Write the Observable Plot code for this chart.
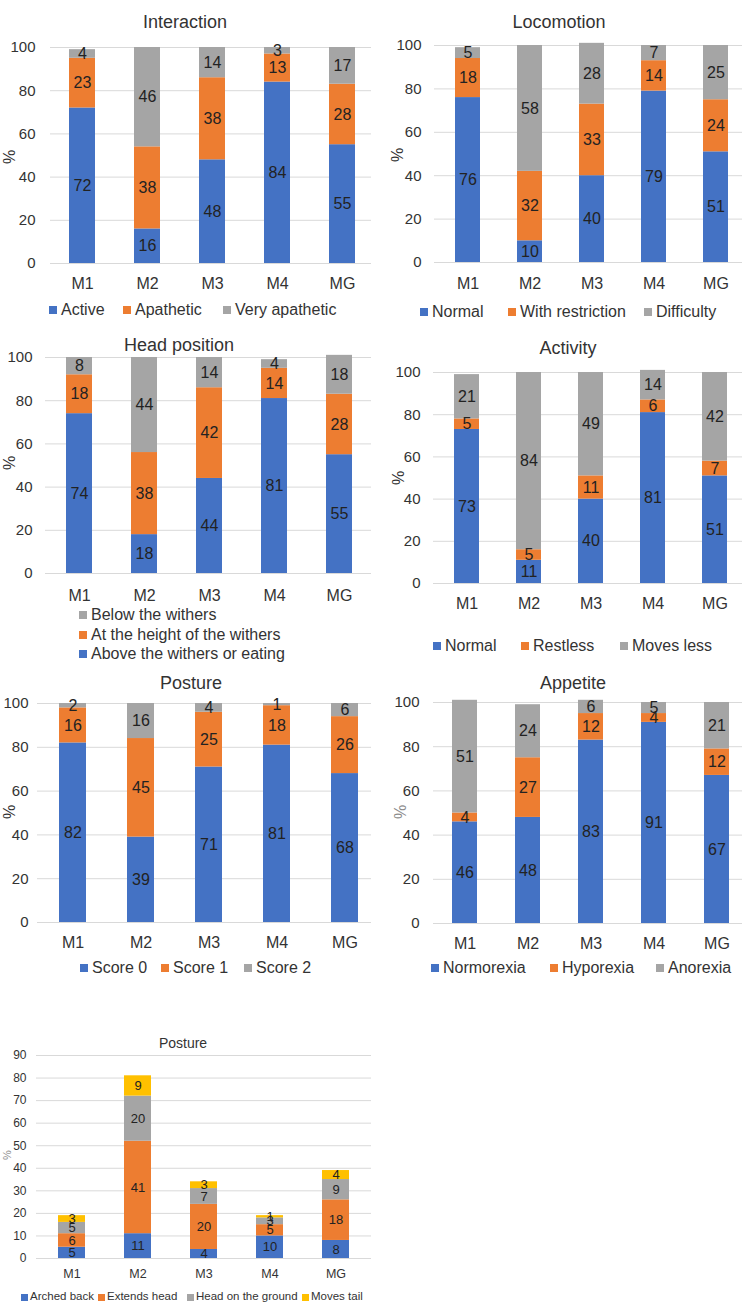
<!DOCTYPE html>
<html><head><meta charset="utf-8">
<script src="https://cdn.jsdelivr.net/npm/d3@7"></script>
<script src="https://cdn.jsdelivr.net/npm/@observablehq/plot@0.6"></script>
<style>
body{margin:0;background:#fff;font-family:"Liberation Sans",Arial,Helvetica,sans-serif;}
#fig{position:relative;width:742px;height:1305px;overflow:hidden;background:#fff;}
.abs{position:absolute;white-space:nowrap;line-height:1;color:#333;}
</style></head><body><div id="fig"></div><script>
// ---- data ----
const groups = ["M1", "M2", "M3", "M4", "MG"];
const colors = ["#4472C4", "#ED7D31", "#A5A5A5", "#FFC000"];
const pctTicks = [0, 20, 40, 60, 80, 100];
const postureTicks = [0, 10, 20, 30, 40, 50, 60, 70, 80, 90];

const interactionSeries = ["Active", "Apathetic", "Very apathetic"];
const interactionValues = [[72, 16, 48, 84, 55], [23, 38, 38, 13, 28], [4, 46, 14, 3, 17]];

const locomotionSeries = ["Normal", "With restriction", "Difficulty"];
const locomotionValues = [[76, 10, 40, 79, 51], [18, 32, 33, 14, 24], [5, 58, 28, 7, 25]];

const headSeries = ["Above the withers or eating", "At the height of the withers", "Below the withers"];
const headValues = [[74, 18, 44, 81, 55], [18, 38, 42, 14, 28], [8, 44, 14, 4, 18]];

const activitySeries = ["Normal", "Restless", "Moves less"];
const activityValues = [[73, 11, 40, 81, 51], [5, 5, 11, 6, 7], [21, 84, 49, 14, 42]];

const postureSeries = ["Score 0", "Score 1", "Score 2"];
const postureValues = [[82, 39, 71, 81, 68], [16, 45, 25, 18, 26], [2, 16, 4, 1, 6]];

const appetiteSeries = ["Normorexia", "Hyporexia", "Anorexia"];
const appetiteValues = [[46, 48, 83, 91, 67], [4, 27, 12, 4, 12], [51, 24, 6, 5, 21]];

const posture2Series = ["Arched back", "Extends head", "Head on the ground", "Moves tail"];
const posture2Values = [[5, 11, 4, 10, 8], [6, 41, 20, 5, 18], [5, 20, 7, 3, 9], [3, 9, 3, 1, 4]];

// ---- layout (pixels) ----
const big = {fx: 16, fy: 15, fv: 16, ft: 18, fl: 16, fp: 16, sw: 8, tx: 12};
const small = {fx: 12.5, fy: 12, fv: 13, ft: 14, fl: 11.5, fp: 11, sw: 7, tx: 9};
const panels = [
  {title: "Interaction", series: interactionSeries, values: interactionValues, ticks: pctTicks, yMax: 100, f: big,
   L: {left: 0, top: 0, w: 371, h: 300, ml: 50, yTop: 47, yZero: 263, centers: [82, 147, 212, 277, 342], bw: 26, ytp: 15, xLabelY: 283,
       title: [185, 22], pct: [10, 157], pctColor: "#333", legendY: 310, legendX: [49, 123, 223]}},
  {title: "Locomotion", series: locomotionSeries, values: locomotionValues, ticks: pctTicks, yMax: 100, f: big,
   L: {left: 371, top: 0, w: 371, h: 300, ml: 63, yTop: 45, yZero: 262, centers: [96, 158, 220, 281, 344], bw: 25, ytp: 13, xLabelY: 283,
       title: [559, 22], pct: [398, 155], pctColor: "#333", legendY: 312, legendX: [420, 508, 644]}},
  {title: "Head position", series: headSeries, values: headValues, ticks: pctTicks, yMax: 100, f: big,
   L: {left: 0, top: 330, w: 371, h: 285, ml: 45, yTop: 27, yZero: 243, centers: [78, 143, 209, 274, 339], bw: 26, ytp: 13, xLabelY: 265,
       title: [179, 345], pct: [10, 463], pctColor: "#333", legendVertical: {x: 83, ys: [654, 635, 615]}}},
  {title: "Activity", series: activitySeries, values: activityValues, ticks: pctTicks, yMax: 100, f: big,
   L: {left: 371, top: 330, w: 371, h: 290, ml: 62, yTop: 42, yZero: 253, centers: [94, 156, 219, 282, 344], bw: 25, ytp: 13, xLabelY: 273,
       title: [568, 348], pct: [399, 478], pctColor: "#333", legendY: 646, legendX: [433, 521, 620]}},
  {title: "Posture", series: postureSeries, values: postureValues, ticks: pctTicks, yMax: 100, f: big,
   L: {left: 0, top: 650, w: 371, h: 305, ml: 37, yTop: 53, yZero: 272, centers: [71, 140, 208, 277, 345], bw: 27, ytp: 9, xLabelY: 292,
       title: [191, 683], pct: [10, 812], pctColor: "#333", legendY: 968, legendX: [80, 161, 244]}},
  {title: "Appetite", series: appetiteSeries, values: appetiteValues, ticks: pctTicks, yMax: 100, f: big,
   L: {left: 371, top: 650, w: 371, h: 305, ml: 62, yTop: 52, yZero: 273, centers: [92, 156, 219, 283, 346], bw: 25, ytp: 14, xLabelY: 293,
       title: [573, 683], pct: [401, 812], pctColor: "#8c8c8c", legendY: 968, legendX: [431, 550, 656]}},
  {title: "Posture", series: posture2Series, values: posture2Values, ticks: postureTicks, yMax: 90, f: small,
   L: {left: 0, top: 990, w: 371, h: 295, ml: 36, yTop: 65, yZero: 268, centers: [70, 137, 203, 271, 337], bw: 27, ytp: 10, xLabelY: 283,
       title: [183, 1043], pct: [7, 1155], pctColor: "#8c8c8c", legendY: 1297, legendX: [21, 98, 187, 302]}}
];

const fig = document.getElementById("fig");
const FONT = '"Liberation Sans", Arial, Helvetica, sans-serif';

function addDiv(text, x, y, opts = {}) {
  const d = document.createElement("div");
  d.className = "abs";
  d.textContent = text;
  d.style.left = x + "px";
  d.style.top = y + "px";
  d.style.fontSize = (opts.fs || 16) + "px";
  if (opts.color) d.style.color = opts.color;
  d.style.transform = opts.transform || "translate(-50%,-50%)";
  fig.appendChild(d);
  return d;
}
function addSwatch(x, y, size, color) {
  const s = document.createElement("div");
  s.style.position = "absolute";
  s.style.left = x + "px";
  s.style.top = (y - size / 2) + "px";
  s.style.width = size + "px";
  s.style.height = size + "px";
  s.style.background = color;
  fig.appendChild(s);
}

function tidy(series, values) {
  const rows = [];
  series.forEach((s, i) => groups.forEach((g, j) => rows.push({g, s, v: values[i][j]})));
  return rows;
}

for (const p of panels) {
  const L = p.L, f = p.f;
  const c = L.centers;
  const step = (c[c.length - 1] - c[0]) / (c.length - 1);
  const pin = 1 - L.bw / step;
  const data = tidy(p.series, p.values);
  const svg = Plot.plot({
    width: L.w, height: L.h,
    marginLeft: L.ml, marginRight: 0, marginTop: L.yTop, marginBottom: L.h - L.yZero,
    style: {background: "transparent", color: "#333", fontFamily: FONT},
    x: {domain: groups, range: [c[0] - step / 2, c[c.length - 1] + step / 2], paddingInner: pin, paddingOuter: pin / 2, axis: null},
    y: {domain: [0, p.yMax], axis: null},
    color: {domain: p.series, range: colors.slice(0, p.series.length)},
    marks: [
      Plot.gridY({ticks: p.ticks, stroke: "#d9d9d9", strokeOpacity: 1}),
      Plot.barY(data, {x: "g", y: "v", fill: "s"}),
      Plot.text(data, Plot.stackY({x: "g", y: "v", z: "s", text: d => String(d.v), fill: "#222", fontSize: f.fv})),
      Plot.axisX({tickSize: 0, tickPadding: L.xLabelY - L.yZero - 0.36 * f.fx, fontSize: f.fx, label: null}),
      Plot.axisY({ticks: p.ticks, tickSize: 0, tickPadding: L.ytp, fontSize: f.fy, label: null})
    ]
  });
  svg.style.position = "absolute";
  svg.style.left = L.left + "px";
  svg.style.top = L.top + "px";
  fig.appendChild(svg);

  addDiv(p.title, L.title[0], L.title[1], {fs: f.ft});
  addDiv("%", L.pct[0], L.pct[1], {fs: f.fp, color: L.pctColor, transform: "translate(-50%,-50%) rotate(-90deg)"});

  if (L.legendVertical) {
    p.series.forEach((s, i) => {
      const y = L.legendVertical.ys[i];
      addSwatch(L.legendVertical.x - f.sw / 2, y, f.sw, colors[i]);
      addDiv(s, L.legendVertical.x - f.sw / 2 + f.tx, y, {fs: f.fl, transform: "translate(0,-50%)"});
    });
  } else {
    p.series.forEach((s, i) => {
      const x = L.legendX[i];
      addSwatch(x, L.legendY, f.sw, colors[i]);
      addDiv(s, x + f.tx, L.legendY, {fs: f.fl, transform: "translate(0,-50%)"});
    });
  }
}
</script></body></html>
